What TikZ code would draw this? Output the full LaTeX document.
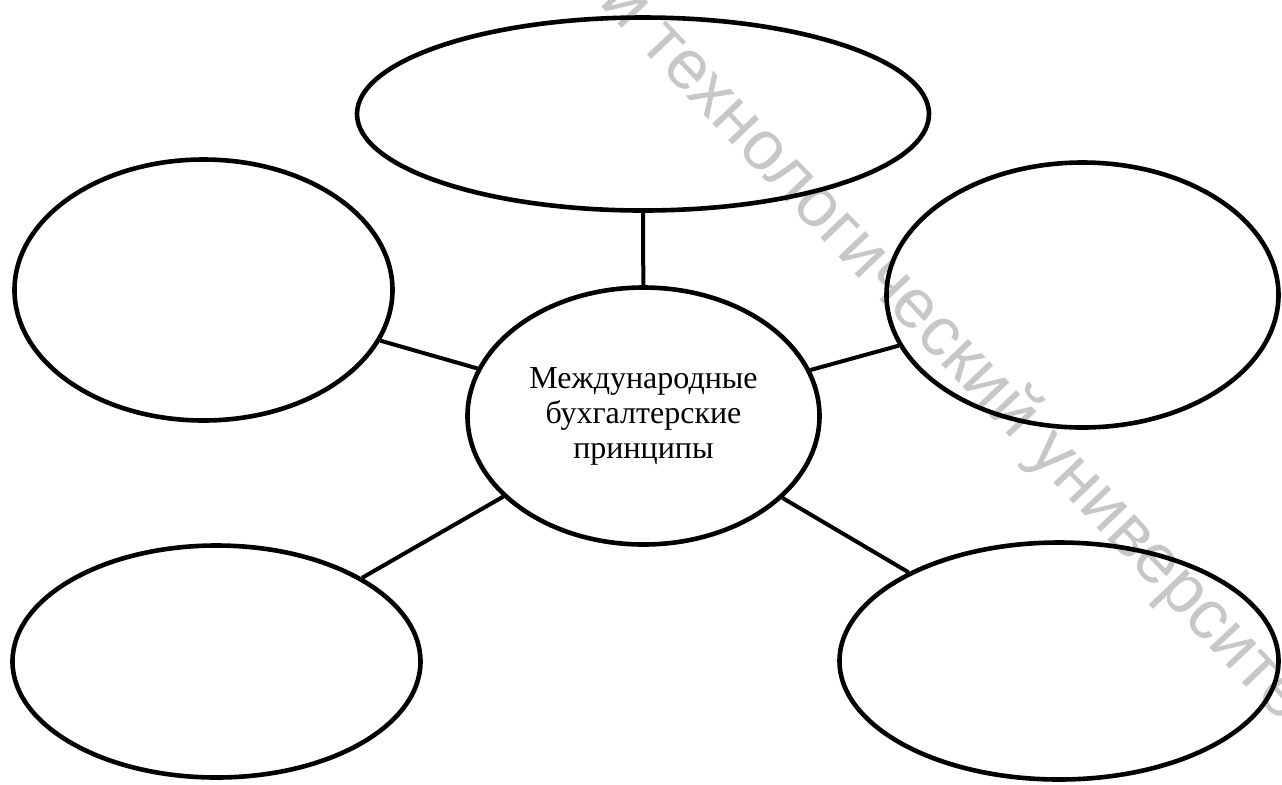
\documentclass[tikz,border=0pt]{standalone}
\usepackage{fontspec}
\setmainfont{Liberation Serif}
\newfontfamily\wmfont{Liberation Sans}
\usetikzlibrary{shapes.geometric}
\tikzset{
  bubble/.style={draw, ellipse, line width=2.3pt, inner sep=0pt},
  link/.style={line width=2pt},
}
\begin{document}
\begin{tikzpicture}[x=0.5pt,y=-0.5pt]
        \useasboundingbox (0,0) rectangle (1282,784);

        % watermark behind the scheme
        \begin{scope}
        \clip (0,0) rectangle (1282,784);
        \node[anchor=base west, rotate=-46.5, text=black!22, inner sep=0pt, font=\wmfont\fontsize{35}{40}\selectfont] (stamp) at (598,3) {й технологический университет};
        \end{scope}

        \node[bubble, minimum width=286pt, minimum height=96.5pt] (top) at (643,114) {};
        \node[bubble, minimum width=189pt, minimum height=130.5pt] (left) at (203.5,290) {};
        \node[bubble, minimum width=196pt, minimum height=132.5pt] (right) at (1082.5,295) {};
        \node[bubble, minimum width=204pt, minimum height=116pt] (botleft) at (216.5,661.5) {};
        \node[bubble, minimum width=219.5pt, minimum height=118.5pt] (botright) at (1059,661) {};

        \node[bubble, minimum width=176pt, minimum height=128.5pt, align=center, font=\fontsize{16}{17.5}\selectfont] (hub) at (643.5,416) {Международные\\бухгалтерские\\принципы};

        \draw[link] (hub) -- (top);
        \draw[link] (hub) -- (left);
        \draw[link] (hub) -- (right);
        \draw[link] (hub) -- (botleft);
        \draw[link] (hub) -- (botright);
\end{tikzpicture}
\end{document}
